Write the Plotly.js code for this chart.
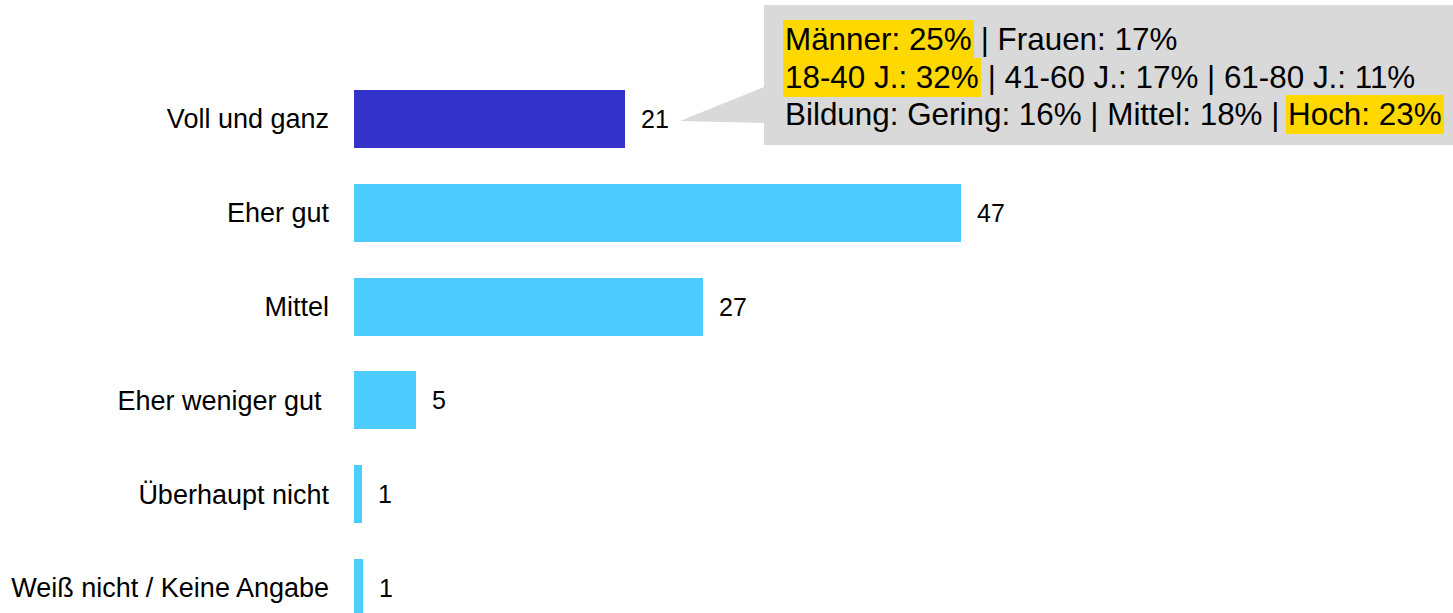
<!DOCTYPE html>
<html>
<head>
<meta charset="utf-8">
<script src="https://cdn.plot.ly/plotly-3.0.1.min.js"></script>
<style>
  html, body { margin: 0; padding: 0; background: #ffffff; }
  #chart { width: 1453px; height: 613px; }
</style>
</head>
<body>
<div id="chart"></div>
<script>
// ---- data ----
const categories = ['Voll und ganz', 'Eher gut', 'Mittel', 'Eher weniger gut', 'Überhaupt nicht', 'Weiß nicht / Keine Angabe'];
const tickLabels = ['Voll und ganz', 'Eher gut', 'Mittel', 'Eher weniger gut\u00a0', 'Überhaupt nicht', 'Weiß nicht / Keine Angabe'];
const values = [21, 47, 27, 4.8, 0.6, 0.7];
const highlightedCategory = 'Voll und ganz';
const calloutLine1 = [['Männer: 25%', true], [' | Frauen: 17%', false]];
const calloutLine2 = [['18-40 J.: 32%', true], [' | 41-60 J.: 17% | 61-80 J.: 11%', false]];
const calloutLine3 = [['Bildung: Gering: 16% | Mittel: 18% | ', false], ['Hoch: 23%', true]];

// ---- layout constants ----
const W = 1453, H = 613;
const L = 354;                     // left margin = bar start
const plotW = W - L;
const FONT = 'Liberation Sans, Arial, sans-serif';
const darkBlue = '#3333cc';
const lightBlue = '#4dccff';
const calloutGray = '#d9d9d9';
const yellow = '#ffd800';
const catFont = 27, numFont = 25, calloutFont = 31.4;

const px2x = px => (px - L) / plotW;
const py2y = py => 1 - py / H;

const colors = categories.map(c => c === highlightedCategory ? darkBlue : lightBlue);

const trace = {
  type: 'bar',
  orientation: 'h',
  x: values,
  y: categories,
  width: 0.62,
  marker: { color: colors, line: { width: 0 } },
  hoverinfo: 'none'
};

const annotations = [];
// value labels
categories.forEach((c, i) => {
  annotations.push({
    x: values[i], y: c, xref: 'x', yref: 'y',
    text: String(Math.round(values[i])),
    showarrow: false, xanchor: 'left', yanchor: 'middle', xshift: 14,
    font: { family: FONT, size: numFont, color: '#000000' }
  });
});

// callout text with highlighted segments
const cv = document.createElement('canvas').getContext('2d');
cv.font = calloutFont + 'px "Liberation Sans"';
const nb = s => s.replace(/^ +/, m => '\u00a0'.repeat(m.length)).replace(/ +$/, m => '\u00a0'.repeat(m.length));
const textStartX = 785;
const lineCenters = [39, 77, 115];
const pad = 2;
[calloutLine1, calloutLine2, calloutLine3].forEach((line, li) => {
  let cx = textStartX;
  line.forEach(([seg, hl]) => {
    annotations.push({
      x: px2x(cx - pad), y: py2y(lineCenters[li]), xref: 'paper', yref: 'paper',
      text: nb(seg), showarrow: false, xanchor: 'left', yanchor: 'middle',
      align: 'left', borderpad: pad, borderwidth: 0,
      bgcolor: hl ? yellow : 'rgba(0,0,0,0)',
      font: { family: FONT, size: calloutFont, color: '#000000' }
    });
    cx += cv.measureText(seg).width;
  });
});

// callout bubble
const pts = [[764, 5], [1453, 5], [1453, 145], [764, 145], [764, 123], [680, 121], [764, 87]];
const path = 'M ' + pts.map(p => px2x(p[0]) + ',' + py2y(p[1])).join(' L ') + ' Z';

const layout = {
  width: W, height: H,
  margin: { l: L, r: 0, t: 0, b: 0, pad: 0 },
  paper_bgcolor: '#ffffff', plot_bgcolor: '#ffffff',
  showlegend: false,
  bargap: 0,
  xaxis: { visible: false, range: [0, plotW / 12.91], fixedrange: true },
  yaxis: {
    type: 'category',
    range: [(H - 119) / 93.8, -119 / 93.8],
    tickmode: 'array', tickvals: categories, ticktext: tickLabels,
    showgrid: false, zeroline: false, showline: false, ticks: '',
    ticklabelstandoff: 24,
    tickfont: { family: FONT, size: catFont, color: '#000000' },
    fixedrange: true
  },
  shapes: [{
    type: 'path', xref: 'paper', yref: 'paper', path: path,
    fillcolor: calloutGray, line: { width: 0 }, layer: 'below'
  }],
  annotations: annotations
};

Plotly.newPlot('chart', [trace], layout, { displayModeBar: false, staticPlot: true });
</script>
</body>
</html>
